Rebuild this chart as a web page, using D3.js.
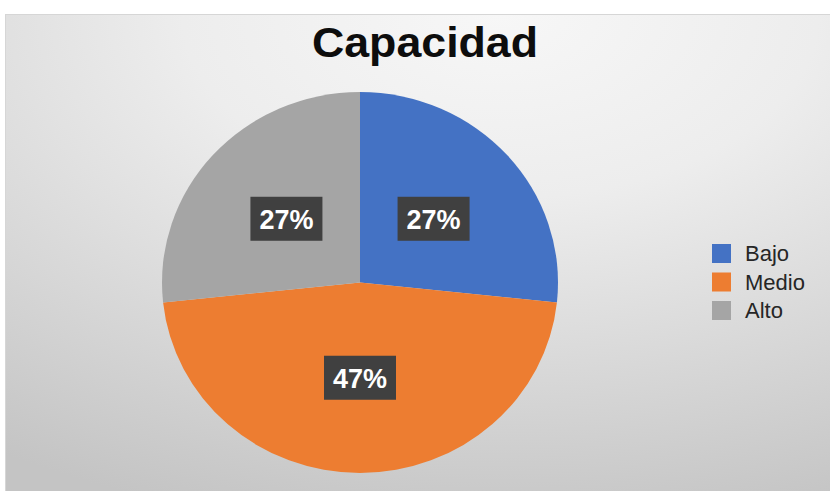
<!DOCTYPE html>
<html>
<head>
<meta charset="utf-8">
<style>
body { margin: 0; background: #fff; }
text { font-family: "Liberation Sans", Arial, sans-serif; }
</style>
</head>
<body>
<svg width="830" height="491"></svg>
<script src="https://d3js.org/d3.v7.min.js"></script>
<script>

// chart data
var categories = ["Bajo", "Medio", "Alto"];
var counts = [4, 7, 4];
var colors = ["#4472C4", "#ED7D31", "#A5A5A5"];
var title = "Capacidad";

var svg = d3.select("svg"),
    width = +svg.attr("width"),
    height = +svg.attr("height");

var defs = svg.append("defs");
var grad = defs.append("radialGradient")
    .attr("id", "bg")
    .attr("cx", "60%").attr("cy", "0%")
    .attr("r", "110%");
grad.append("stop").attr("offset", "0%").attr("stop-color", "#f7f7f7");
grad.append("stop").attr("offset", "35%").attr("stop-color", "#ededed");
grad.append("stop").attr("offset", "100%").attr("stop-color", "#c4c4c4");

svg.append("rect")
    .attr("x", 5.5).attr("y", 14.5)
    .attr("width", width - 5).attr("height", height - 14)
    .attr("fill", "url(#bg)")
    .attr("stroke", "#d6d6d6");

// source image is a little stretched sideways
svg.append("text")
    .attr("transform", "translate(425,57) scale(1.04,1)")
    .attr("text-anchor", "middle")
    .attr("font-size", 43)
    .attr("font-weight", "bold")
    .attr("fill", "#0d0d0d")
    .text(title);

var cx = 360, cy = 282.5, r = 190.5, sx = 198 / 190.5;

var pie = d3.pie().sort(null).value(function(d) { return d; });
var arcs = pie(counts);
var arc = d3.arc().innerRadius(0).outerRadius(r);

var total = d3.sum(counts);

svg.append("g")
    .attr("transform", "translate(" + cx + "," + cy + ") scale(" + sx + ",1)")
  .selectAll("path")
  .data(arcs)
  .enter().append("path")
    .attr("d", arc)
    .attr("fill", function(d, i) { return colors[i]; });

var lab = svg.append("g")
  .selectAll("g")
  .data(arcs)
  .enter().append("g")
    .attr("transform", function(d) {
      var c = arc.centroid(d);
      return "translate(" + (cx + c[0] * sx) + "," + (cy + c[1]) + ")";
    });

lab.append("rect")
    .attr("x", -36).attr("y", -22)
    .attr("width", 72).attr("height", 44)
    .attr("fill", "#404040");

lab.append("text")
    .attr("text-anchor", "middle")
    .attr("y", 10)
    .attr("font-size", 27)
    .attr("font-weight", "bold")
    .attr("fill", "#fff")
    .text(function(d) { return Math.round(d.value / total * 100) + "%"; });

var legend = svg.append("g")
  .selectAll("g")
  .data(categories)
  .enter().append("g")
    .attr("transform", function(d, i) { return "translate(712," + (244 + i * 28.5) + ")"; });

legend.append("rect")
    .attr("width", 19).attr("height", 19)
    .attr("fill", function(d, i) { return colors[i]; });

legend.append("text")
    .attr("x", 33)
    .attr("y", 17)
    .attr("font-size", 22)
    .attr("fill", "#262626")
    .text(function(d) { return d; });

</script>
</body>
</html>
